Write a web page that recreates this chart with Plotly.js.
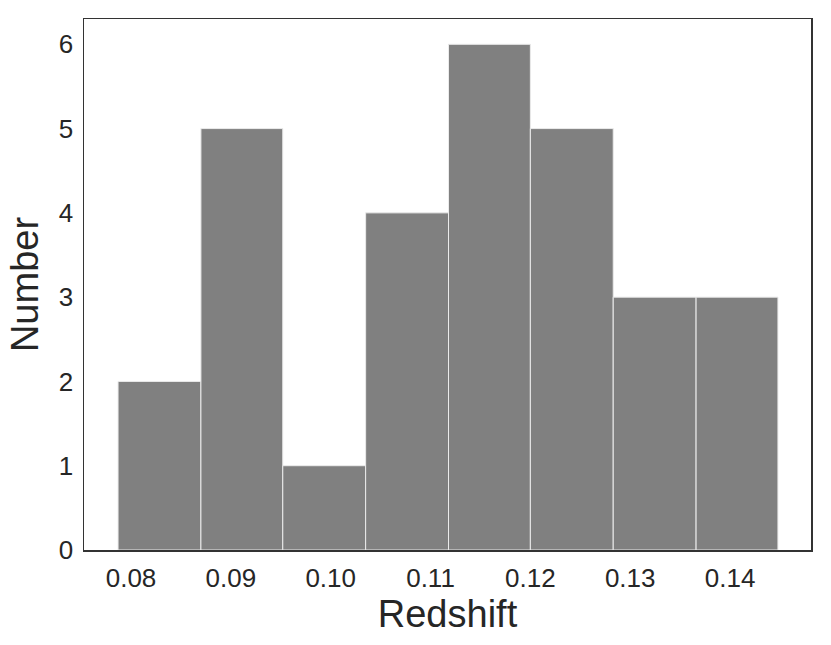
<!DOCTYPE html>
<html>
<head>
<meta charset="utf-8">
<script src="https://cdn.plot.ly/plotly-3.0.1.min.js"></script>
<style>html,body{margin:0;padding:0;background:#fff;}#chart{width:831px;height:645px;}</style>
</head>
<body>
<div id="chart"></div>
<script>
// Histogram bin edges (redshift) and counts
var binEdges = [0.0787, 0.0870, 0.0952, 0.1035, 0.1118, 0.1200, 0.1283, 0.1366, 0.1448];
var counts = [2, 5, 1, 4, 6, 5, 3, 3];
var xTickVals = [0.08, 0.09, 0.10, 0.11, 0.12, 0.13, 0.14];
var xTickText = ["0.08", "0.09", "0.10", "0.11", "0.12", "0.13", "0.14"];
var yTickVals = [0, 1, 2, 3, 4, 5, 6];

var centers = [], widths = [];
for (var i = 0; i < counts.length; i++) {
  centers.push((binEdges[i] + binEdges[i + 1]) / 2);
  widths.push(binEdges[i + 1] - binEdges[i]);
}

var trace = {
  type: 'bar',
  x: centers,
  y: counts,
  width: widths,
  marker: { color: '#808080', line: { color: 'rgba(235,235,235,1)', width: 1 } },
  hoverinfo: 'x+y'
};

var font = "'Liberation Sans', Arial, sans-serif";
var layout = {
  width: 831, height: 645,
  margin: { l: 84, r: 20, t: 19, b: 95, pad: 0 },
  paper_bgcolor: '#fff', plot_bgcolor: '#fff',
  showlegend: false,
  bargap: 0,
  font: { family: font, color: '#262626', size: 26 },
  xaxis: {
    range: [0.07529, 0.14811],
    tickvals: xTickVals, ticktext: xTickText,
    ticks: '', showgrid: false, zeroline: false,
    showline: true, mirror: true, linecolor: '#333', linewidth: 1.5,
    tickfont: { size: 26, family: font, color: '#262626' },
    ticklabelstandoff: 4,
    title: { text: 'Redshift', font: { size: 38, family: font, color: '#262626' }, standoff: 8 }
  },
  yaxis: {
    range: [0, 6.3],
    tickvals: yTickVals,
    ticks: '', showgrid: false, zeroline: false,
    showline: true, mirror: true, linecolor: '#333', linewidth: 1.5,
    tickfont: { size: 26, family: font, color: '#262626' },
    ticklabelstandoff: 4,
    title: { text: 'Number', font: { size: 38, family: font, color: '#262626' }, standoff: 8 }
  }
};

Plotly.newPlot('chart', [trace], layout, { displayModeBar: false, staticPlot: true });
</script>
</body>
</html>
